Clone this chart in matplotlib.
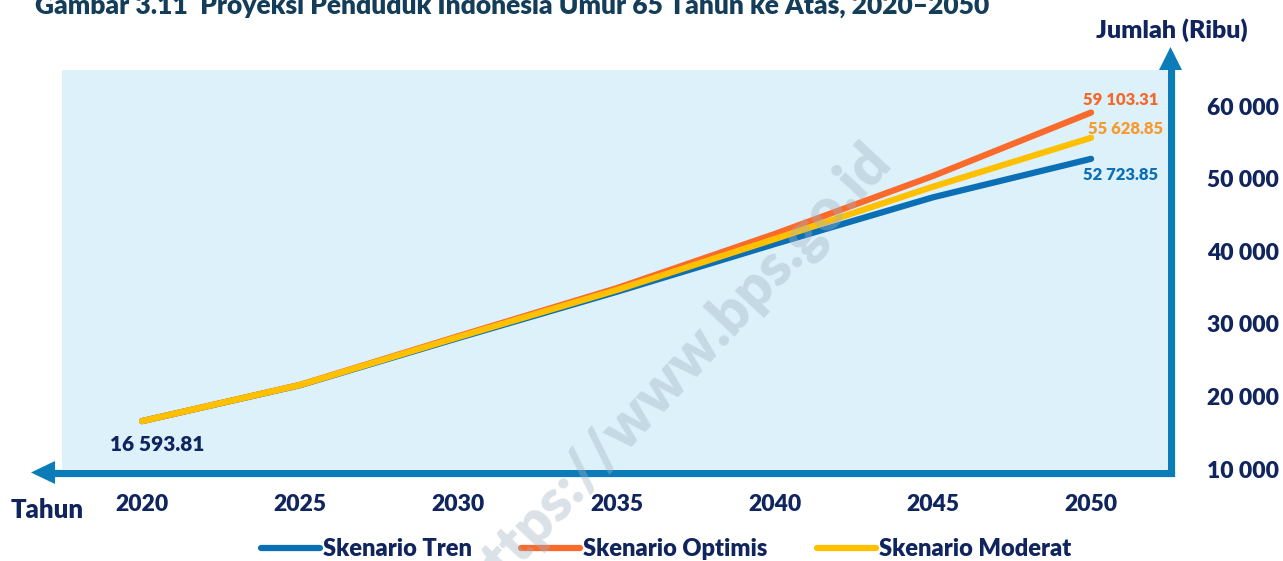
import matplotlib.pyplot as plt
from matplotlib.lines import Line2D
from matplotlib.patches import Polygon

# Data (ribu jiwa)
tahun = [2020, 2025, 2030, 2035, 2040, 2045, 2050]
tren = [16593.81, 21550, 28050, 34400, 40990, 47420, 52723.85]
optimis = [16593.81, 21600, 28300, 34900, 42370, 50360, 59103.31]
moderat = [16593.81, 21580, 28180, 34650, 41680, 48880, 55628.85]
y_ticks = [10000, 20000, 30000, 40000, 50000, 60000]
x_ticks = [2020, 2025, 2030, 2035, 2040, 2045, 2050]

navy = "#10245e"
axis_blue = "#0b7cb7"
c_tren = "#0a6fb5"
c_opt = "#fa6a2b"
c_mod = "#ffc000"
wt = "heavy"

plt.rcParams["font.family"] = ["Lato", "DejaVu Sans"]
plt.rcParams["font.weight"] = wt

W, H = 1283, 561
fig = plt.figure(figsize=(W / 100, H / 100), dpi=100)

# main plot area (pixel box: x 62..1167, y 70..469)
ax = fig.add_axes([62 / W, 1 - 469 / H, (1167 - 62) / W, (469 - 70) / H])
ax.set_facecolor("#ddf1fb")
for s in ax.spines.values():
    s.set_visible(False)

l1, = ax.plot(tahun, tren, color=c_tren, lw=4.5, solid_capstyle="round", zorder=3)
l2, = ax.plot(tahun, optimis, color=c_opt, lw=4.5, solid_capstyle="round", zorder=4)
l3, = ax.plot(tahun, moderat, color=c_mod, lw=4.5, solid_capstyle="round", zorder=5)

ax.set_xlim(2017.47, 2052.40)
ax.set_ylim(10000, 64960)
ax.set_xticks(x_ticks)
ax.set_xticklabels([str(t) for t in x_ticks], fontsize=16.5, fontweight=wt, color=navy)
ax.set_yticks(y_ticks)
ax.set_yticklabels([f"{v:,}".replace(",", " ") for v in y_ticks],
                   fontsize=16.5, fontweight=wt, color=navy)
ax.yaxis.tick_right()
ax.tick_params(axis="y", length=0, pad=29)
ax.tick_params(axis="x", length=0, pad=18)

# data labels
def fmt(v):
    return f"{v:,.2f}".replace(",", " ")

ax.annotate(fmt(optimis[-1]), (tahun[-1], optimis[-1]), xytext=(21, 9),
            textcoords="offset points", ha="center", va="center",
            fontsize=12, fontweight=wt, color="#f4692a")
ax.annotate(fmt(moderat[-1]), (tahun[-1], moderat[-1]), xytext=(25, 6),
            textcoords="offset points", ha="center", va="center",
            fontsize=12, fontweight=wt, color="#f79a2e")
ax.annotate(fmt(tren[-1]), (tahun[-1], tren[-1]), xytext=(21, -12),
            textcoords="offset points", ha="center", va="center",
            fontsize=12, fontweight=wt, color=c_tren)
ax.annotate(fmt(tren[0]), (tahun[0], tren[0]), xytext=(11, -17),
            textcoords="offset points", ha="center", va="center",
            fontsize=15, fontweight=wt, color=navy)

# overlay for the arrow-style axes (pixel coords, origin top-left)
ov = fig.add_axes([0, 0, 1, 1], zorder=10)
ov.set_xlim(0, W)
ov.set_ylim(H, 0)
ov.axis("off")
ov.patch.set_alpha(0)
ov.add_line(Line2D([52, 1170.5, 1170.5], [472.5, 472.5, 68],
                   color=axis_blue, lw=5.2, solid_joinstyle="miter"))
ov.add_patch(Polygon([[31, 472.5], [55, 461], [55, 484]], closed=True,
                     color=axis_blue, lw=0))
ov.add_patch(Polygon([[1170.5, 47], [1159, 70], [1182, 70]], closed=True,
                     color=axis_blue, lw=0))

# watermark
ov.text(676, 372, "https://www.bps.go.id", rotation=47, ha="center", va="center",
        fontsize=42, fontweight=wt, color="#9fb2c2", alpha=0.38)

# texts
fig.text(35 / W, 1 - 6 / H, "Gambar 3.11  Proyeksi Penduduk Indonesia Umur 65 Tahun ke Atas, 2020\u20132050",
         ha="left", va="center", fontsize=19, fontweight=wt, color="#143d59")
fig.text(1172 / W, 1 - 30 / H, "Jumlah (Ribu)", ha="center", va="center",
         fontsize=18, fontweight=wt, color=navy)
fig.text(47 / W, 1 - 510 / H, "Tahun", ha="center", va="center",
         fontsize=18.5, fontweight=wt, color=navy)

leg = fig.legend([l1, l2, l3], ["Skenario Tren", "Skenario Optimis", "Skenario Moderat"],
                 loc="center", bbox_to_anchor=(666 / W, 1 - 549 / H), ncol=3,
                 frameon=False, handlelength=2.5, handletextpad=0.12,
                 columnspacing=2.1, prop={"size": 17, "weight": wt})
for t in leg.get_texts():
    t.set_color(navy)

fig.savefig("out.png", dpi=100)
